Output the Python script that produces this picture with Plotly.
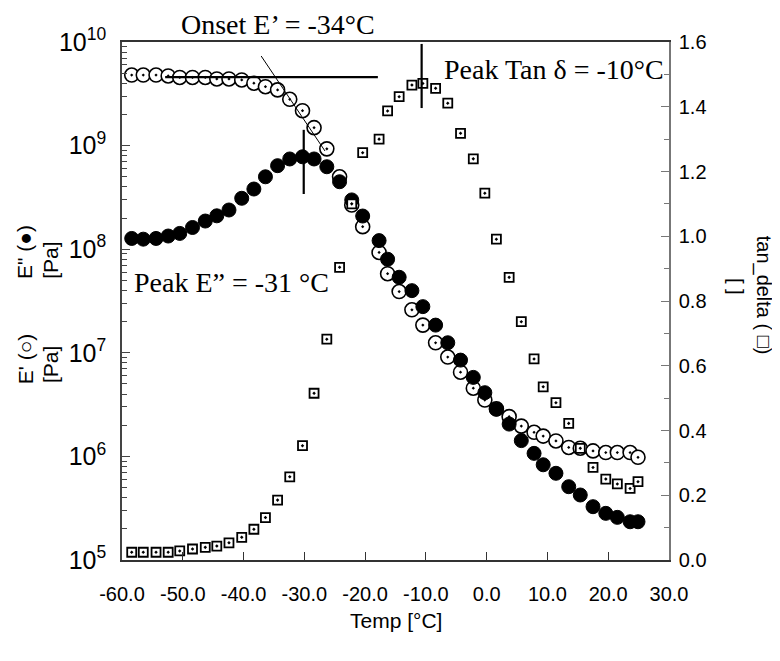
import plotly.graph_objects as go

# temperature steps of the DMA sweep
temp = [-58.4, -56.5, -54.4, -52.4, -50.5, -48.4, -46.3, -44.4, -42.4, -40.3,
        -38.3, -36.4, -34.4, -32.4, -30.3, -28.4, -26.3, -24.2, -22.2, -20.4,
        -17.7, -16.3, -14.4, -12.3, -10.5, -8.4, -6.4, -4.3, -2.2, -0.3,
        1.6, 3.7, 5.7, 7.8, 9.3, 11.4, 13.5, 15.4, 17.5, 19.6,
        21.5, 23.6, 24.9]

# storage modulus E' [Pa]
e_storage = [4.8e9, 4.8e9, 4.8e9, 4.7e9, 4.55e9, 4.55e9, 4.55e9, 4.4e9, 4.4e9, 4.3e9,
             4.0e9, 3.7e9, 3.45e9, 2.8e9, 2.17e9, 1.49e9, 9.3e8, 5.0e8, 2.67e8, 1.65e8,
             9.3e7, 5.8e7, 3.9e7, 2.6e7, 1.85e7, 1.25e7, 9.1e6, 6.5e6, 4.55e6, 3.5e6,
             2.88e6, 2.42e6, 1.96e6, 1.71e6, 1.57e6, 1.41e6, 1.22e6, 1.2e6, 1.13e6, 1.09e6,
             1.09e6, 1.09e6, 9.8e5]

# loss modulus E'' [Pa]
e_loss = [1.27e8, 1.25e8, 1.27e8, 1.34e8, 1.42e8, 1.62e8, 1.87e8, 2.1e8, 2.39e8, 3.1e8,
          3.81e8, 5.0e8, 6.4e8, 7.43e8, 7.8e8, 7.43e8, 6.25e8, 4.48e8, 2.99e8, 2.09e8,
          1.21e8, 8.0e7, 5.36e7, 3.98e7, 2.79e7, 1.85e7, 1.25e7, 8.5e6, 5.79e6, 4.12e6,
          2.85e6, 2.05e6, 1.42e6, 1.07e6, 8.3e5, 6.87e5, 5.1e5, 4.24e5, 3.27e5, 2.82e5,
          2.58e5, 2.34e5, 2.34e5]

# tan delta []
tan_delta = [0.024, 0.024, 0.024, 0.024, 0.028, 0.034, 0.039, 0.043, 0.053, 0.070,
             0.095, 0.131, 0.185, 0.257, 0.353, 0.515, 0.682, 0.904, 1.10, 1.258,
             1.300, 1.387, 1.431, 1.467, 1.472, 1.457, 1.411, 1.318, 1.239, 1.133,
             0.991, 0.873, 0.736, 0.621, 0.535, 0.486, 0.422, 0.345, 0.286, 0.250,
             0.235, 0.221, 0.242]

# construction lines for the transition temperatures
onset_flat_t = [-52.9, -17.9]
onset_flat_e = [4.59e9, 4.59e9]
onset_slope_t = [-37.1, -26.6]
onset_slope_e = [7.32e9, 8.87e8]
peak_loss_t = [-30.1, -30.1]
peak_loss_e = [1.42e9, 3.41e8]
peak_tan_t = [-10.7, -10.7]
peak_tan_v = [1.594, 1.396]

x_ticks = [-60, -50, -40, -30, -20, -10, 0, 10, 20, 30]
x_labels = ["-60.0", "-50.0", "-40.0", "-30.0", "-20.0", "-10.0", "0.0", "10.0", "20.0", "30.0"]

SANS = "Liberation Sans, Arial, sans-serif"
SERIF = "Liberation Serif, Times New Roman, serif"

fig = go.Figure()

fig.add_trace(go.Scatter(
    x=temp, y=e_storage, mode="markers", name="E'",
    marker=dict(symbol="circle-dot", size=14, color="white",
                line=dict(color="black", width=1.6))))

fig.add_trace(go.Scatter(
    x=temp, y=tan_delta, mode="markers", name="tan_delta", yaxis="y2",
    marker=dict(symbol="square-dot", size=9, color="white",
                line=dict(color="black", width=1.8))))

fig.add_trace(go.Scatter(
    x=temp, y=e_loss, mode="markers", name="E''",
    marker=dict(symbol="circle", size=14, color="black",
                line=dict(color="black", width=1))))

line_style = dict(color="black", width=2.2)
fig.add_trace(go.Scatter(x=onset_flat_t, y=onset_flat_e, mode="lines", line=line_style))
fig.add_trace(go.Scatter(x=onset_slope_t, y=onset_slope_e, mode="lines",
                         line=dict(color="black", width=1)))
fig.add_trace(go.Scatter(x=peak_loss_t, y=peak_loss_e, mode="lines", line=line_style))
fig.add_trace(go.Scatter(x=peak_tan_t, y=peak_tan_v, mode="lines", line=line_style,
                         yaxis="y2"))

# the page body adds 8px, so the figure is drawn 8px smaller
fig.update_layout(
    width=772, height=653,
    margin=dict(l=114, r=111, t=34, b=101),
    paper_bgcolor="white", plot_bgcolor="white",
    showlegend=False,
    font=dict(family=SANS, size=20, color="black"),
    xaxis=dict(range=[-60, 30], tickvals=x_ticks, ticktext=x_labels,
               ticks="inside", ticklen=8, tickcolor="#333", automargin=False,
               showline=True, linecolor="#333", linewidth=1.5, mirror=True,
               showgrid=False, zeroline=False, ticklabelstandoff=15),
    yaxis=dict(type="log", range=[5, 10], dtick=1, exponentformat="power",
               ticks="inside", ticklen=8, tickcolor="#444", automargin=False,
               minor=dict(ticks="inside", ticklen=5, dtick="D1", tickcolor="#444"),
               showline=True, linecolor="#444", linewidth=1.5,
               showgrid=False, zeroline=False, ticklabelstandoff=10),
    yaxis2=dict(overlaying="y", side="right", range=[0, 1.6], dtick=0.2,
                tickformat=".1f", ticks="inside", ticklen=8, tickcolor="#777",
                automargin=False,
                minor=dict(ticks="inside", ticklen=5, dtick=0.1, tickcolor="#777"),
                showline=True, linecolor="#777", linewidth=1.5,
                showgrid=False, zeroline=False, ticklabelstandoff=4),
)

ann_axis = dict(xref="paper", yref="paper", showarrow=False,
                xanchor="center", yanchor="middle",
                font=dict(family=SANS, size=21))
fig.add_annotation(text="E\" (●)", x=-0.177, y=0.595, textangle=-90, **ann_axis)
fig.add_annotation(text="[Pa]", x=-0.132, y=0.579, textangle=-90, **ann_axis)
fig.add_annotation(text="E' (○)", x=-0.177, y=0.388, textangle=-90, **ann_axis)
fig.add_annotation(text="[Pa]", x=-0.132, y=0.378, textangle=-90, **ann_axis)
fig.add_annotation(text="tan_delta ( □)", x=1.172, y=0.512, textangle=90,
                   **{**ann_axis, "font": dict(family=SANS, size=20)})
fig.add_annotation(text="[ ]", x=1.1225, y=0.529, textangle=90,
                   **{**ann_axis, "font": dict(family=SANS, size=20)})
fig.add_annotation(text="Temp [°C]", x=0.5, y=-0.116, **ann_axis)

ann_note = dict(xref="paper", yref="paper", showarrow=False,
                xanchor="center", yanchor="middle",
                font=dict(family=SERIF, size=28))
fig.add_annotation(text="Onset E’ = -34°C", x=0.286, y=1.033, **ann_note)
fig.add_annotation(text="Peak Tan δ = -10°C", x=0.79, y=0.946, **ann_note)
fig.add_annotation(text="Peak E” = -31 °C", x=0.2, y=0.535, **ann_note)

fig.write_html("out.html")
